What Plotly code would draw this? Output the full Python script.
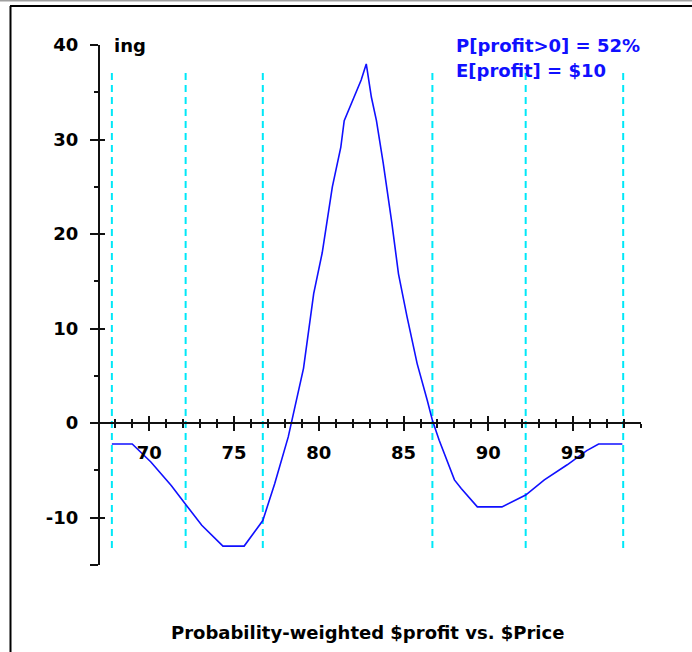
import plotly.graph_objects as go

# ---- data ----
price = [67.8, 69.0, 70.1, 71.3, 72.2, 73.1, 74.35, 75.6, 76.7, 77.4, 78.2, 79.1,
         79.7, 80.2, 80.8, 81.3, 81.5, 81.8, 82.5, 82.8, 83.1, 83.4, 83.8, 84.3,
         84.7, 85.2, 85.8, 86.4, 86.7, 87.1, 88.0, 88.4, 89.35, 90.8, 92.2, 93.3,
         94.65, 95.8, 96.5, 97.9]
weighted_profit = [-2.2, -2.2, -4.1, -6.6, -8.7, -10.8, -13.0, -13.0, -10.3, -6.4,
                   -1.45, 5.8, 13.7, 18.0, 25.0, 29.2, 32.0, 33.3, 36.3, 38.0, 34.5,
                   32.0, 27.5, 21.3, 15.8, 11.3, 6.3, 2.4, 0.3, -1.8, -6.0, -6.9,
                   -8.85, -8.85, -7.6, -6.0, -4.4, -2.9, -2.2, -2.2]
marker_prices = [67.8, 72.15, 76.7, 86.7, 92.2, 97.95]
marker_low, marker_high = -13.2, 37.1
y_major = [-15, -10, 0, 10, 20, 30, 40]
y_major_text = ["", "-10", "0", "10", "20", "30", "40"]
y_minor = [-5, 5, 15, 25, 35]
prob_text = "P[profit>0] = 52%"
exp_text = "E[profit] = $10"
title_text = "Probability-weighted $profit vs. $Price"
ylabel_text = "ing"

XR = [67.1, 99.0]
YR = [-15, 40]

W, H = 692, 652
L, R, T, B = 100, 51, 45, 87
pw, ph = W - L - R, H - T - B

def px_x(p):
    return (p - L) / pw

def px_y(p):
    return (H - B - p) / ph

FONT = "DejaVu Sans"

fig = go.Figure()

# dashed marker lines
vx, vy = [], []
for m in marker_prices:
    vx += [m, m, None]
    vy += [marker_low, marker_high, None]
fig.add_trace(go.Scatter(x=vx, y=vy, mode="lines",
                         line=dict(color="#00E8F8", width=2, dash="7px,5px"),
                         hoverinfo="skip", showlegend=False))

fig.add_trace(go.Scatter(x=price, y=weighted_profit, mode="lines",
                         line=dict(color="#1010FF", width=1.6),
                         showlegend=False))

# dummy trace for overlay axes (inside ticks)
fig.add_trace(go.Scatter(x=[None], y=[None], xaxis="x2", yaxis="y2",
                         showlegend=False, hoverinfo="skip"))

tickfont = dict(family=FONT, size=18, color="black", weight="bold")
pos0 = (0 - YR[0]) / (YR[1] - YR[0])

fig.update_layout(
    width=W, height=H,
    margin=dict(l=L, r=R, t=T, b=B),
    paper_bgcolor="white", plot_bgcolor="white",
    xaxis=dict(range=XR, anchor="free", position=pos0, showline=True,
               linecolor="#111", linewidth=2, showgrid=False, zeroline=False,
               tickmode="linear", tick0=0, dtick=5, ticks="outside",
               ticklen=7, tickwidth=2, tickcolor="#111",
               minor=dict(dtick=1, tick0=0, ticks="outside", ticklen=4,
                          tickwidth=2, tickcolor="#111"),
               tickfont=tickfont, ticklabelstandoff=6),
    xaxis2=dict(range=XR, overlaying="x", anchor="free", position=pos0,
                showline=False, showgrid=False, zeroline=False,
                tickmode="linear", tick0=0, dtick=5, ticks="inside",
                ticklen=7, tickwidth=2, tickcolor="#111",
                minor=dict(dtick=1, tick0=0, ticks="inside", ticklen=4,
                           tickwidth=2, tickcolor="#111"),
                showticklabels=False),
    yaxis=dict(range=YR, showline=True, linecolor="#111", linewidth=2,
               showgrid=False, zeroline=False, tickmode="array",
               tickvals=y_major, ticktext=y_major_text, ticks="outside",
               ticklen=8, tickwidth=2, tickcolor="#111",
               minor=dict(tickvals=y_minor, ticks="outside", ticklen=4,
                          tickwidth=2, tickcolor="#111"),
               tickfont=tickfont, ticklabelstandoff=8),
    yaxis2=dict(range=YR, overlaying="y", side="left", showline=False,
                showgrid=False, zeroline=False, tickmode="array",
                tickvals=y_major, ticks="inside", ticklen=5, tickwidth=2,
                tickcolor="#111", showticklabels=False),
)

# texts
fig.add_annotation(x=px_x(112), xref="paper", y=40, yref="y", text=ylabel_text,
                   showarrow=False, xanchor="left", yanchor="middle",
                   font=dict(family=FONT, size=18, color="black", weight="bold"))
fig.add_annotation(x=px_x(454), xref="paper", y=px_y(45), yref="paper",
                   text=prob_text, showarrow=False, xanchor="left",
                   yanchor="middle",
                   font=dict(family=FONT, size=18, color="#1010FF", weight="bold"))
fig.add_annotation(x=px_x(454), xref="paper", y=px_y(70), yref="paper",
                   text=exp_text, showarrow=False, xanchor="left",
                   yanchor="middle",
                   font=dict(family=FONT, size=18, color="#1010FF", weight="bold"))
fig.add_annotation(x=px_x(367), xref="paper", y=px_y(632), yref="paper",
                   text=title_text, showarrow=False, xanchor="center",
                   yanchor="middle",
                   font=dict(family=FONT, size=18, color="black", weight="bold"))

# frame lines
fig.add_shape(type="line", xref="paper", yref="paper",
              x0=px_x(0), x1=px_x(W), y0=px_y(0.5), y1=px_y(0.5),
              line=dict(color="#A0A0A0", width=2))
fig.add_shape(type="line", xref="paper", yref="paper",
              x0=px_x(10), x1=px_x(W), y0=px_y(6), y1=px_y(6),
              line=dict(color="black", width=2))
fig.add_shape(type="line", xref="paper", yref="paper",
              x0=px_x(10.5), x1=px_x(10.5), y0=px_y(6), y1=px_y(H),
              line=dict(color="black", width=2))

fig.write_html("out.html",
               config={"displayModeBar": False},
               post_script="document.body.style.margin='0';"
                           "document.body.style.overflow='hidden';")
